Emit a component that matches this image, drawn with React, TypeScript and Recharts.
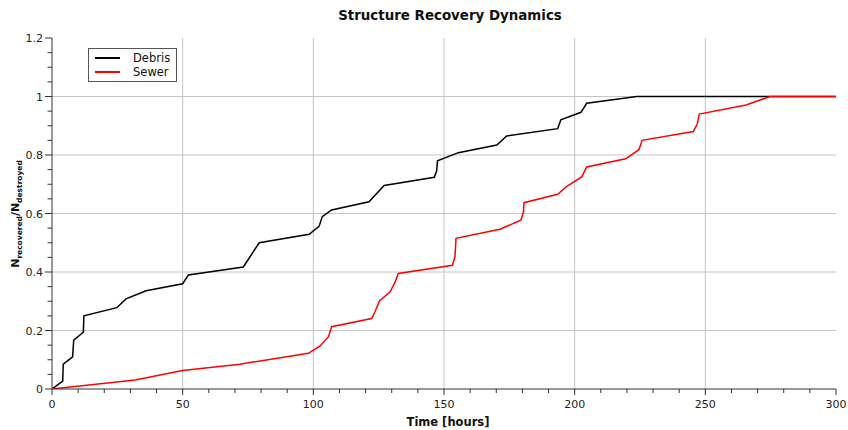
import { LineChart, Line, XAxis, YAxis, ReferenceLine, Legend } from 'recharts'

// share of structures recovered vs. elapsed hours
const debrisHours = [0, 4.1, 4.3, 7.9, 8.3, 12.0, 12.2, 24.8, 28.3, 36, 50, 52.2, 73.2, 79.3, 98.4, 102.2, 103.4, 107.0, 121.3, 127.1, 146.3, 147.2, 147.5, 155.5, 170.2, 174.0, 193.5, 194.7, 202.4, 204.6, 223.8, 300]
const debrisShare = [0, 0.027, 0.085, 0.11, 0.167, 0.194, 0.25, 0.278, 0.308, 0.336, 0.36, 0.39, 0.417, 0.5, 0.529, 0.556, 0.589, 0.612, 0.64, 0.696, 0.724, 0.746, 0.78, 0.808, 0.834, 0.865, 0.89, 0.92, 0.946, 0.977, 1, 1]

const sewerHours = [0, 31.8, 50, 71.9, 98.1, 102.6, 105.8, 107.0, 122.3, 123.6, 125.3, 129.4, 131.3, 132.5, 153.2, 154.2, 154.6, 171.4, 179.4, 180.4, 180.6, 193.5, 197.0, 202.7, 204.6, 219.5, 224.6, 225.8, 245.4, 246.9, 247.7, 265.6, 274.8, 300]
const sewerShare = [0, 0.031, 0.063, 0.085, 0.122, 0.147, 0.179, 0.213, 0.241, 0.264, 0.301, 0.332, 0.366, 0.395, 0.423, 0.452, 0.515, 0.546, 0.577, 0.605, 0.637, 0.666, 0.693, 0.725, 0.759, 0.787, 0.818, 0.85, 0.88, 0.906, 0.94, 0.971, 1, 1]

const xMajorTicks = [0, 50, 100, 150, 200, 250, 300]
const yMajorTicks = [0, 0.2, 0.4, 0.6, 0.8, 1, 1.2]
const xMinorTicks = Array.from({ length: 31 }, (_, i) => i * 10)
const yMinorTicks = Array.from({ length: 25 }, (_, i) => (i * 5) / 100)

const seriesNames = ['Debris', 'Sewer']
const seriesColors = ['#000000', '#ff0000']

const debrisData = debrisHours.map((h, i) => ({ hours: h, share: debrisShare[i] }))
const sewerData = sewerHours.map((h, i) => ({ hours: h, share: sewerShare[i] }))

const FONT = "'DejaVu Sans', Verdana, sans-serif"
const AXIS = '#333333'
const GRID = '#c4c4c4'

const isMajor = (list: number[], v: number) => list.some(m => Math.abs(m - v) < 1e-6)

function XTick({ x, y, payload }: any) {
  const major = isMajor(xMajorTicks, payload.value)
  return (
    <g>
      <line x1={x} x2={x} y1={y} y2={y + (major ? 6 : 4)} stroke={AXIS} />
      {major && (
        <text x={x} y={y + 19} textAnchor="middle" fontSize={11} fontFamily={FONT} fill="#222">
          {payload.value}
        </text>
      )}
    </g>
  )
}

function YTick({ x, y, payload }: any) {
  const major = isMajor(yMajorTicks, payload.value)
  return (
    <g>
      <line x1={x - (major ? 7 : 4.5)} x2={x} y1={y} y2={y} stroke={AXIS} />
      {major && (
        <text x={x - 9} y={y + 4} textAnchor="end" fontSize={11} fontFamily={FONT} fill="#222">
          {Number(payload.value.toFixed(1)).toString()}
        </text>
      )}
    </g>
  )
}

function YTitle() {
  return (
    <text
      x={19}
      y={214}
      transform="rotate(-90 19 214)"
      textAnchor="middle"
      fontFamily={FONT}
      fontWeight="bold"
      fontSize={11}
      fill="#111"
    >
      N
      <tspan fontSize={7.5} dy={3}>recovered</tspan>
      <tspan dy={-3}>/N</tspan>
      <tspan fontSize={7.5} dy={3}>destroyed</tspan>
    </text>
  )
}

function XTitle() {
  return (
    <text x={448} y={426} textAnchor="middle" fontFamily={FONT} fontWeight="bold" fontSize={11.5} fill="#111">
      Time [hours]
    </text>
  )
}

function LegendBox() {
  return (
    <div style={{
      width: 89, height: 34, border: '1px solid #555', background: '#fff',
      fontFamily: FONT, fontSize: 11.5, color: '#111', boxSizing: 'border-box',
      padding: '2px 0 0 6px',
    }}>
      {seriesNames.map((name, i) => (
        <div key={name} style={{ display: 'flex', alignItems: 'center', height: 14 }}>
          <span style={{ display: 'inline-block', width: 25, height: 2, background: seriesColors[i] }} />
          <span style={{ marginLeft: 13 }}>{name}</span>
        </div>
      ))}
    </div>
  )
}

export default function App() {
  return (
    <div style={{ position: 'absolute', left: 0, top: 0, width: 848, height: 430, background: '#fff' }}>
      <div style={{
        position: 'absolute', left: 0, top: 8, width: 900, textAlign: 'center',
        fontFamily: FONT, fontWeight: 'bold', fontSize: 13.4, color: '#111',
      }}>
        Structure Recovery Dynamics
      </div>
      <LineChart width={848} height={430} margin={{ top: 38, right: 12, left: 12, bottom: 0 }}>
        {xMajorTicks.slice(1, -1).map(v => (
          <ReferenceLine key={'x' + v} x={v} stroke={GRID} />
        ))}
        {yMajorTicks.slice(1, -1).map(v => (
          <ReferenceLine key={'y' + v} y={v} stroke={GRID} />
        ))}
        <XAxis
          dataKey="hours"
          type="number"
          domain={[0, 300]}
          ticks={xMinorTicks}
          interval={0}
          tickSize={0}
          tickMargin={0}
          tickLine={false}
          tick={<XTick />}
          axisLine={{ stroke: AXIS }}
          height={41}
          allowDataOverflow
          label={{ content: <XTitle /> }}
        />
        <YAxis
          type="number"
          domain={[0, 1.2]}
          ticks={yMinorTicks}
          interval={0}
          tickSize={0}
          tickMargin={0}
          tickLine={false}
          tick={<YTick />}
          axisLine={{ stroke: AXIS }}
          width={40}
          allowDataOverflow
          label={{ content: <YTitle /> }}
        />
        <Legend
          layout="horizontal"
          verticalAlign="middle"
          align="center"
          content={<LegendBox />}
          wrapperStyle={{ position: 'absolute', left: 88, top: 48, width: 'auto' }}
        />
        <Line
          data={debrisData}
          dataKey="share"
          name={seriesNames[0]}
          type="linear"
          stroke={seriesColors[0]}
          strokeWidth={1.5}
          dot={false}
          isAnimationActive={false}
        />
        <Line
          data={sewerData}
          dataKey="share"
          name={seriesNames[1]}
          type="linear"
          stroke={seriesColors[1]}
          strokeWidth={1.5}
          dot={false}
          isAnimationActive={false}
        />
      </LineChart>
    </div>
  )
}
